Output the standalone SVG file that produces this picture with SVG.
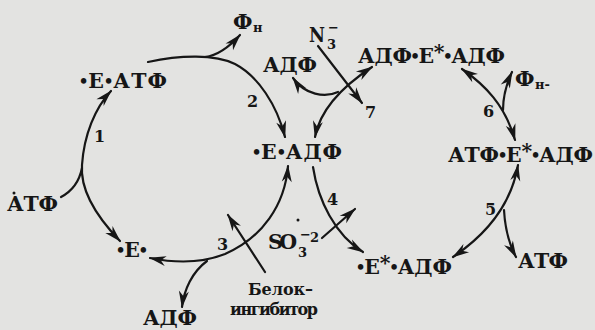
<svg xmlns="http://www.w3.org/2000/svg" width="595" height="330" viewBox="0 0 595 330">
<style>
  text { font-family: "DejaVu Serif", "Liberation Serif", serif; font-weight: bold; fill: #161616; }
  .b { font-family: "Liberation Serif", serif; }
  .lbl { font-size: 20.5px; }
  .num { font-size: 16px; }
  .sub { font-size: 13px; }
  .small { font-size: 16px; }
  .c { fill: none; stroke: #161616; stroke-width: 2.2; stroke-linecap: round; }
  .a2 { marker-end: url(#ah); }
  .ab { marker-start: url(#ah); marker-end: url(#ah); }
</style>
<defs>
  <marker id="ah" viewBox="-17 -6 19 12" refX="0" refY="0" markerWidth="19" markerHeight="12" markerUnits="userSpaceOnUse" orient="auto-start-reverse">
    <path d="M1,0 L-16,-5 L-11,0 L-16,5 Z" fill="#161616"/>
  </marker>
</defs>
<rect width="595" height="330" fill="#e3e3e1"/>

<g id="connectors">
  <!-- reaction 1 -->
  <path class="c ab" d="M120,241 C95,215 80,190 82,165 C84,135 95,108 111,91"/>
  <path class="c" d="M61,197 Q78,188 82,168"/>
  <!-- reaction 2 -->
  <path class="c a2" d="M148,62 C180,55 215,54 235,64 C258,76 277,105 285,137"/>
  <path class="c a2" d="M205,57 Q222,55 240,35"/>
  <!-- reaction 3 -->
  <path class="c ab" d="M288,166 C285,205 262,238 225,254 C200,264 175,263 150,258"/>
  <path class="c a2" d="M207,261 C192,272 184,290 182,307"/>
  <path class="c a2" d="M265,272 L228,215"/>
  <!-- reaction 4 -->
  <path class="c a2" d="M313,167 C318,200 335,235 363,252"/>
  <path class="c a2" d="M322,238 L355,209"/>
  <!-- reaction 7 -->
  <path class="c ab" d="M315,137 C320,110 340,88 372,67"/>
  <path class="c a2" d="M338,92 C325,98 305,95 293,78"/>
  <path class="c a2" d="M318,46 L362,103"/>
  <!-- reaction 6 -->
  <path class="c ab" d="M462,69 C485,85 505,105 515,140"/>
  <path class="c a2" d="M503,110 C503,95 506,85 512,72"/>
  <!-- reaction 5 -->
  <path class="c ab" d="M518,165 C512,200 490,232 453,257"/>
  <path class="c a2" d="M504,210 C505,228 508,242 516,257"/>
</g>

<g id="n-E-ATP"><text class="lbl" x="80" y="88" textLength="87" lengthAdjust="spacing"><tspan class="b">•</tspan>E<tspan class="b">•</tspan>АТФ</text></g>
<g id="n-Pi-top"><text class="lbl" x="233" y="29">Ф</text><text class="sub" x="253" y="32">н</text></g>
<g id="n-E-ADP"><text class="lbl" x="253" y="159" textLength="89" lengthAdjust="spacing"><tspan class="b">•</tspan>E<tspan class="b">•</tspan>АДФ</text></g>
<g id="n-ADP-top"><text class="lbl" x="263" y="72" textLength="54" lengthAdjust="spacing">АДФ</text></g>
<g id="n-N3"><text class="lbl" x="309" y="42" textLength="16" lengthAdjust="spacingAndGlyphs">N</text><text class="sub" x="327" y="49">3</text><text class="sub" x="328" y="32">−</text></g>
<g id="n-ADP-E-ADP"><text class="lbl" x="358" y="63" textLength="147" lengthAdjust="spacing">АДФ<tspan class="b">•</tspan>E<tspan dy="-4">*</tspan><tspan class="b" dy="4">•</tspan>АДФ</text></g>
<g id="n-Pi-right"><text class="lbl" x="515" y="86">Ф</text><text class="sub" x="535" y="89">н-</text></g>
<g id="n-ATP-E-ADP"><text class="lbl" x="448" y="162" textLength="145" lengthAdjust="spacing">АТФ<tspan class="b">•</tspan>E<tspan dy="-4">*</tspan><tspan class="b" dy="4">•</tspan>АДФ</text></g>
<g id="n-E"><text class="lbl" x="117" y="257" textLength="30" lengthAdjust="spacing"><tspan class="b">•</tspan>E<tspan class="b">•</tspan></text></g>
<g id="n-ATP-left"><circle cx="14" cy="193" r="1.5" fill="#161616"/><text class="lbl" x="7" y="211" textLength="51" lengthAdjust="spacing">АТФ</text></g>
<g id="n-SO3"><circle cx="298" cy="220" r="1.5" fill="#161616"/><text class="lbl" x="268" y="249" textLength="29" lengthAdjust="spacing">SO</text><text class="sub" x="298" y="257">3</text><text class="sub" x="300" y="239">−</text><text class="sub" x="310" y="242">2</text></g>
<g id="n-Estar-ADP"><text class="lbl" x="357" y="274" textLength="95" lengthAdjust="spacing"><tspan class="b">•</tspan>E<tspan dy="-4">*</tspan><tspan class="b" dy="4">•</tspan>АДФ</text></g>
<g id="n-ATP-right"><text class="lbl" x="518" y="268" textLength="50" lengthAdjust="spacing">АТФ</text></g>
<g id="n-inhibitor"><text class="small" x="248" y="295" textLength="65" lengthAdjust="spacing">Белок–</text><text class="small" x="230" y="315" textLength="88" lengthAdjust="spacing">ингибитор</text></g>
<g id="n-ADP-bottom"><text class="lbl" x="143" y="325" textLength="54" lengthAdjust="spacing">АДФ</text></g>

<g id="step-labels">
  <text class="num" x="94" y="142">1</text>
  <text class="num" x="247" y="107">2</text>
  <text class="num" x="217" y="250">3</text>
  <text class="num" x="327" y="205">4</text>
  <text class="num" x="485" y="215">5</text>
  <text class="num" x="483" y="117">6</text>
  <text class="num" x="365" y="118">7</text>
</g>
</svg>
